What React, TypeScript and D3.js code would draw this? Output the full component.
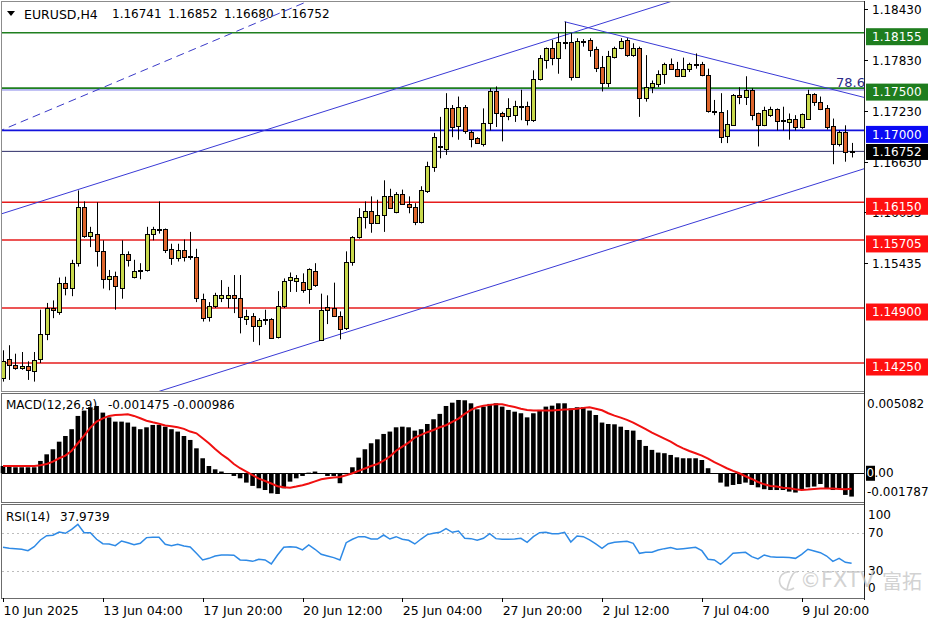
import React from "react";
import * as d3 from "d3";

// header
const symbolName = "EURUSD,H4";
const headerOHLC = ["1.16741", "1.16852", "1.16680", "1.16752"];

// H4 candles, first bar = 10 Jun 12:00
const openP = [
  1.1407, 1.1430, 1.1423, 1.1419, 1.1421, 1.1416, 1.1429, 1.1459, 1.1490, 1.1486,
  1.1520, 1.1514, 1.1543, 1.1609, 1.1575, 1.1578, 1.1558, 1.1525, 1.1528, 1.1514,
  1.1554, 1.1527, 1.1534, 1.1534, 1.1577, 1.1583, 1.1583, 1.1560, 1.1549, 1.1559,
  1.1551, 1.1550, 1.1501, 1.1479, 1.1492, 1.1502, 1.1502, 1.1505, 1.1502, 1.1477,
  1.1481, 1.1469, 1.1476, 1.1477, 1.1455, 1.1492, 1.1523, 1.1523, 1.1521, 1.1512,
  1.1534, 1.1452, 1.1491, 1.1490, 1.1481, 1.1466, 1.1544, 1.1574, 1.1598, 1.1605,
  1.1591, 1.1600, 1.1623, 1.1604, 1.1625, 1.1613, 1.1609, 1.1591, 1.1629, 1.1657,
  1.1681, 1.1679, 1.1727, 1.1705, 1.1728, 1.1698, 1.1691, 1.1684, 1.1709, 1.1747,
  1.1721, 1.1718, 1.1718, 1.1729, 1.1729, 1.1713, 1.1761, 1.1783, 1.1797, 1.1785,
  1.1804, 1.1804, 1.1763, 1.1806, 1.1807, 1.1796, 1.1775, 1.1756, 1.1787, 1.1798,
  1.1807, 1.1789, 1.1797, 1.1738, 1.1751, 1.1755, 1.1767, 1.1779, 1.1773, 1.1765,
  1.1772, 1.1778, 1.1778, 1.1765, 1.1723, 1.1722, 1.1693, 1.1707, 1.1742, 1.1740,
  1.1748, 1.1720, 1.1706, 1.1718, 1.1725, 1.1711, 1.1711, 1.1714, 1.1704, 1.1714,
  1.1743, 1.1734, 1.1726, 1.1705, 1.1684, 1.1698, 1.16741,
];
const highP = [
  1.1440, 1.1446, 1.1436, 1.1438, 1.1427, 1.1438, 1.1488, 1.1496, 1.1499, 1.1526,
  1.1527, 1.1547, 1.1629, 1.1616, 1.1586, 1.1615, 1.1570, 1.1535, 1.1533, 1.1570,
  1.1557, 1.1547, 1.1543, 1.1586, 1.1586, 1.1616, 1.1584, 1.1566, 1.1566, 1.1571,
  1.1580, 1.1560, 1.1507, 1.1497, 1.1508, 1.1523, 1.1515, 1.1529, 1.1529, 1.1488,
  1.1484, 1.1478, 1.1488, 1.1478, 1.1510, 1.1525, 1.1532, 1.1529, 1.1531, 1.1537,
  1.1543, 1.1507, 1.1505, 1.1520, 1.1486, 1.1557, 1.1575, 1.1608, 1.1616, 1.1622,
  1.1618, 1.1641, 1.1631, 1.1627, 1.1630, 1.1622, 1.1614, 1.1634, 1.1663, 1.1697,
  1.1716, 1.1744, 1.1730, 1.1740, 1.1730, 1.1700, 1.1692, 1.1726, 1.1750, 1.1752,
  1.1722, 1.1738, 1.1735, 1.1748, 1.1734, 1.1771, 1.1789, 1.1798, 1.1807, 1.1815,
  1.18285, 1.1815, 1.1809, 1.1808, 1.1809, 1.1799, 1.1788, 1.1794, 1.1799, 1.1809,
  1.1809, 1.1803, 1.1799, 1.1789, 1.1759, 1.1771, 1.1780, 1.1785, 1.1781, 1.1786,
  1.1780, 1.1791, 1.1781, 1.1773, 1.1736, 1.1744, 1.1724, 1.1743, 1.1751, 1.1764,
  1.1750, 1.1721, 1.1728, 1.1728, 1.1726, 1.1728, 1.1720, 1.1718, 1.1720, 1.1748,
  1.1744, 1.1740, 1.1730, 1.1714, 1.1700, 1.1706, 1.16852,
];
const lowP = [
  1.1403, 1.1405, 1.1417, 1.1417, 1.1405, 1.1403, 1.1425, 1.1452, 1.1478, 1.1482,
  1.1505, 1.1504, 1.1539, 1.1573, 1.1562, 1.1539, 1.1513, 1.1511, 1.1488, 1.1501,
  1.1539, 1.1525, 1.1524, 1.1533, 1.1570, 1.1578, 1.1555, 1.1541, 1.1545, 1.1545,
  1.1547, 1.1497, 1.1474, 1.1474, 1.1490, 1.1497, 1.1490, 1.1484, 1.1460, 1.1470,
  1.1450, 1.1446, 1.1470, 1.1454, 1.1454, 1.1490, 1.1509, 1.1509, 1.1508, 1.1495,
  1.1515, 1.1451, 1.1471, 1.1480, 1.1453, 1.1464, 1.1540, 1.1572, 1.1584, 1.1579,
  1.1590, 1.1580, 1.1608, 1.1602, 1.1612, 1.1602, 1.1588, 1.1590, 1.1626, 1.1651,
  1.1667, 1.1671, 1.1692, 1.1689, 1.1696, 1.1680, 1.1684, 1.1681, 1.1700, 1.1704,
  1.1687, 1.1712, 1.1710, 1.1712, 1.1706, 1.1710, 1.1759, 1.1773, 1.1777, 1.1767,
  1.1796, 1.1759, 1.1762, 1.1799, 1.1787, 1.1769, 1.1746, 1.1751, 1.1785, 1.1796,
  1.1787, 1.1787, 1.1716, 1.1734, 1.1744, 1.1751, 1.1755, 1.1772, 1.1763, 1.1764,
  1.1769, 1.1773, 1.1764, 1.1721, 1.1718, 1.1685, 1.1685, 1.1706, 1.1731, 1.1730,
  1.1712, 1.1681, 1.1705, 1.1716, 1.1700, 1.1700, 1.1689, 1.1700, 1.1702, 1.1713,
  1.1729, 1.1724, 1.1701, 1.1660, 1.1681, 1.1663, 1.1668,
];
const closeP = [
  1.1427, 1.1423, 1.1419, 1.1421, 1.1416, 1.1429, 1.1459, 1.1490, 1.1488, 1.1520,
  1.1514, 1.1543, 1.1609, 1.1575, 1.1580, 1.1558, 1.1525, 1.1528, 1.1516, 1.1554,
  1.1547, 1.1534, 1.1535, 1.1577, 1.1583, 1.1582, 1.1558, 1.1549, 1.1559, 1.1551,
  1.1550, 1.1501, 1.1479, 1.1492, 1.1505, 1.1505, 1.1505, 1.1502, 1.1479, 1.1481,
  1.1469, 1.1476, 1.1477, 1.1455, 1.1492, 1.1522, 1.1527, 1.1526, 1.1512, 1.1536,
  1.1518, 1.1488, 1.1488, 1.1481, 1.1466, 1.1544, 1.1574, 1.1598, 1.1605, 1.1591,
  1.1600, 1.1623, 1.1609, 1.1625, 1.1613, 1.1609, 1.1591, 1.1629, 1.1658, 1.1692,
  1.1682, 1.1727, 1.1705, 1.1728, 1.1700, 1.1690, 1.1685, 1.1709, 1.1747, 1.1721,
  1.1718, 1.1727, 1.1729, 1.1729, 1.1712, 1.1761, 1.1786, 1.1797, 1.1785, 1.1804,
  1.1803, 1.1763, 1.1806, 1.1805, 1.1795, 1.1773, 1.1756, 1.1788, 1.1798, 1.1806,
  1.1789, 1.1797, 1.1738, 1.1751, 1.1756, 1.1767, 1.1779, 1.1773, 1.1765, 1.1773,
  1.1778, 1.1779, 1.1765, 1.1723, 1.1722, 1.1693, 1.1707, 1.1742, 1.1740, 1.1748,
  1.1719, 1.1706, 1.1724, 1.1725, 1.1711, 1.1712, 1.1714, 1.1704, 1.1719, 1.1743,
  1.1734, 1.1726, 1.1704, 1.1684, 1.1698, 1.1674, 1.16752,
];

// MACD(12,26,9): main (histogram) and signal
const macdMain = [
  0.00046, 0.00042, 0.00038, 0.00038, 0.00038, 0.00038, 0.00078, 0.0012, 0.00152, 0.002,
  0.00236, 0.00279, 0.00363, 0.00397, 0.00418, 0.00426, 0.00384, 0.00354, 0.00327, 0.00327,
  0.00321, 0.00295, 0.00279, 0.00291, 0.00306, 0.00306, 0.00295, 0.00279, 0.00264, 0.00236,
  0.00211, 0.00158, 0.00095, 0.00046, 0.00025, 0.00011, -0.00002, -0.00017, -0.00032, -0.00059,
  -0.0008, -0.00095, -0.00106, -0.00127, -0.00131, -0.00095, -0.00053, -0.00032, -0.00017, 0.00004,
  0.00011, -0.00004, -0.00017, -0.00017, -0.00063, 0.00002, 0.00038, 0.00099, 0.00152, 0.0019,
  0.00215, 0.00249, 0.00264, 0.00291, 0.00295, 0.00291, 0.0027, 0.00279, 0.00312, 0.00342,
  0.00376, 0.00426, 0.00447, 0.00464, 0.00462, 0.00443, 0.00405, 0.00422, 0.00439, 0.00443,
  0.00422, 0.00401, 0.0039, 0.0038, 0.00354, 0.0038, 0.00401, 0.00422, 0.00428, 0.00443,
  0.00443, 0.00411, 0.00418, 0.00418, 0.00397, 0.00369, 0.00321, 0.00312, 0.0031, 0.00295,
  0.00274, 0.0027, 0.00211, 0.00173, 0.00148, 0.00131, 0.00127, 0.00116, 0.00101, 0.00095,
  0.00095, 0.00095, 0.00084, 0.00032, -0.00004, -0.00059, -0.00084, -0.00074, -0.00068, -0.00059,
  -0.00074, -0.00089, -0.00101, -0.00106, -0.00106, -0.00106, -0.00116, -0.00122, -0.00106, -0.00089,
  -0.00084, -0.00068, -0.00095, -0.00106, -0.00095, -0.00137, -0.001475,
];
const macdSignal = [
  0.00046, 0.00046, 0.00046, 0.00046, 0.00046, 0.00046, 0.00051, 0.00059, 0.00074, 0.00095,
  0.00112, 0.00143, 0.0019, 0.00238, 0.00289, 0.00327, 0.00348, 0.00363, 0.00369, 0.00371,
  0.00373, 0.00363, 0.00348, 0.00333, 0.00323, 0.00314, 0.00302, 0.00298, 0.00291, 0.00281,
  0.00264, 0.00253, 0.00222, 0.0019, 0.00154, 0.0012, 0.00093, 0.00059, 0.00032, 0.00011,
  -0.00011, -0.00034, -0.00049, -0.00065, -0.00082, -0.00089, -0.00091, -0.00084, -0.00076, -0.00065,
  -0.00051, -0.00038, -0.00032, -0.00027, -0.00023, -0.00013, 0.0, 0.00015, 0.0003, 0.00046,
  0.00059, 0.0008, 0.00106, 0.00143, 0.00169, 0.00194, 0.00226, 0.00243, 0.0026, 0.00274,
  0.00291, 0.00304, 0.00325, 0.00346, 0.00376, 0.00401, 0.00418, 0.00428, 0.00433, 0.00437,
  0.00437, 0.00428, 0.0042, 0.00409, 0.00401, 0.00397, 0.00397, 0.00397, 0.00397, 0.00401,
  0.00403, 0.00405, 0.00409, 0.00414, 0.00418, 0.00409, 0.00399, 0.0038, 0.00365, 0.00352,
  0.00338, 0.00321, 0.003, 0.00279, 0.00257, 0.00238, 0.00219, 0.002, 0.00177, 0.00158,
  0.00141, 0.00127, 0.00112, 0.00093, 0.0007, 0.00051, 0.00032, 0.00015, 0.0, -0.00019,
  -0.00036, -0.00055, -0.0007, -0.0008, -0.00084, -0.00091, -0.00095, -0.00101, -0.00106, -0.00103,
  -0.00099, -0.00097, -0.00097, -0.00097, -0.00099, -0.00101, -0.000986,
];

// RSI(14)
const rsiValues = [
  55.0, 54.0, 53.6, 52.9, 51.4, 55.7, 62.9, 67.5, 67.9, 71.4,
  70.0, 74.3, 79.6, 70.7, 70.7, 63.6, 58.9, 58.6, 56.8, 61.8,
  60.0, 57.9, 59.3, 65.4, 65.7, 65.7, 58.2, 56.8, 58.2, 56.4,
  55.4, 48.6, 41.5, 43.2, 45.7, 46.8, 46.8, 46.5, 41.5, 41.1,
  40.0, 42.2, 41.5, 37.2, 46.8, 55.0, 55.7, 55.0, 52.2, 57.5,
  52.9, 47.5, 45.7, 44.0, 41.5, 60.0, 63.6, 66.4, 66.4, 63.9,
  63.9, 68.2, 63.9, 66.4, 63.6, 62.5, 58.6, 63.9, 68.6, 70.0,
  71.1, 75.0, 71.1, 72.5, 64.7, 64.3, 62.5, 64.7, 69.6, 64.3,
  63.6, 63.6, 63.9, 64.7, 60.4, 66.4, 70.7, 71.1, 69.6, 69.6,
  71.1, 60.7, 67.2, 66.4, 62.9, 58.6, 53.9, 58.9, 60.4, 61.1,
  61.4, 59.3, 48.6, 49.7, 49.7, 52.2, 53.6, 54.7, 52.9, 53.6,
  54.3, 55.0, 51.4, 42.2, 41.5, 36.8, 42.2, 48.6, 49.3, 49.7,
  45.0, 42.5, 46.8, 45.0, 44.3, 44.3, 44.0, 43.2, 47.5, 52.9,
  51.1, 49.3, 45.7, 40.0, 43.2, 39.0, 37.9739,
];

const dateLabels = [
  "10 Jun 2025", "13 Jun 04:00", "17 Jun 20:00", "20 Jun 12:00", "25 Jun 04:00",
  "27 Jun 20:00", "2 Jul 12:00", "7 Jul 04:00", "9 Jul 20:00",
];
const dateLabelBars = [0, 16, 32, 48, 64, 80, 96, 112, 128];

// visible price scale labels (the rest sit under the level boxes)
const priceTicks = [1.1843, 1.1783, 1.1723, 1.1663, 1.16035, 1.15435];
const greenLevels = [1.18155, 1.175];
const blueLevels = [1.17];
const redLevels = [1.1615, 1.15705, 1.149, 1.1425];
const faintLevels = [1.17478];
const lastPrice = 1.16752;

// trendline anchors: [bar, price]
const channelUpper = [[12, 1.163], [90, 1.18125]];
const channelLower = [[51, 1.1452], [136, 1.165]];
const channelDashed = [[0, 1.1701], [48, 1.185]];
const downTrend = [[90, 1.18285], [138, 1.1739]];
const fibLabel = "78.6";

const macdDomain = [-0.001787, 0.005082];
const rsiDomain = [0, 100];
const rsiLevels = [70, 30];
const rsiAxisLabels = [100, 70, 30, 0];

const FONT = "'DejaVu Sans', sans-serif";
const BULL = "#c8d94c";
const BEAR = "#dd652c";

const App: React.FC = () => {
  const n = closeP.length;
  const x = d3.scaleLinear().domain([0, n - 1]).range([3, 851.6]);
  const yP = d3.scaleLinear().domain([1.1425, 1.18155]).range([363, 32.7]);
  const yM = d3.scaleLinear().domain(macdDomain).range([501.5, 393]);
  const yR = d3.scaleLinear().domain(rsiDomain).range([598.7, 505.3]);

  const crisp = (v: number) => Math.round(v) + 0.5;

  // line through two [bar, price] anchors, cut at bars b0..b1
  const seg = (a: number[][], b0: number, b1: number) => {
    const line = d3.scaleLinear().domain([a[0][0], a[1][0]]).range([a[0][1], a[1][1]]);
    return { x1: x(b0), y1: yP(line(b0)), x2: x(b1), y2: yP(line(b1)) };
  };

  const signalPath = d3
    .line<number>()
    .x((_, i) => x(i))
    .y((d) => yM(d))(macdSignal) as string;
  const rsiPath = d3
    .line<number>()
    .x((_, i) => x(i))
    .y((d) => yR(d))(rsiValues) as string;

  const levelBox = (p: number, fill: string, key: string) => (
    <g key={key}>
      <rect x={866} y={yP(p) - 4.5} width={62} height={17} fill={fill} />
      <text x={872} y={yP(p) + 4.3} fill="#fff" fontSize={12} fontFamily={FONT} dominantBaseline="central">
        {p.toFixed(5)}
      </text>
    </g>
  );

  const up = seg(channelUpper, -1, 112);
  const lo = seg(channelLower, 20, 138.5);
  const da = seg(channelDashed, -1, 52);
  const dn = seg(downTrend, 90, 138);

  return (
    <svg width={936} height={624} style={{ display: "block", position: "absolute", left: 0, top: 0 }}>
      <rect x={0} y={0} width={936} height={624} fill="#fff" />
      <defs>
        <clipPath id="mainClip">
          <rect x={2} y={2} width={862} height={389} />
        </clipPath>
      </defs>

      {/* panel frames */}
      <rect x={1.5} y={1.5} width={863} height={390} fill="none" stroke="#8c8c8c" />
      <rect x={1.5} y={393.5} width={863} height={109} fill="none" stroke="#6c6c6c" />
      <rect x={1.5} y={504.5} width={863} height={94} fill="none" stroke="#6c6c6c" />
      <line x1={864.5} x2={864.5} y1={1} y2={600} stroke="#222" />

      {/* horizontal levels */}
      {faintLevels.map((p, i) => (
        <line key={"f" + i} x1={2} x2={864} y1={yP(p)} y2={yP(p)} stroke="#7a7ae6" strokeWidth={1} />
      ))}
      {greenLevels.map((p, i) => (
        <line key={"g" + i} x1={2} x2={864} y1={yP(p)} y2={yP(p)} stroke="#1f7f1f" strokeWidth={1.6} />
      ))}
      {blueLevels.map((p, i) => (
        <line key={"b" + i} x1={2} x2={864} y1={yP(p)} y2={yP(p)} stroke="#1212dc" strokeWidth={1.6} />
      ))}
      {redLevels.map((p, i) => (
        <line key={"r" + i} x1={2} x2={864} y1={yP(p)} y2={yP(p)} stroke="#e61c1c" strokeWidth={1.6} />
      ))}
      <line x1={2} x2={864} y1={yP(lastPrice)} y2={yP(lastPrice)} stroke="#2c2c66" strokeWidth={1} />

      {/* trendlines */}
      <g clipPath="url(#mainClip)" fill="none">
        <line {...up} stroke="#3a3ad6" strokeWidth={1} />
        <line {...lo} stroke="#3a3ad6" strokeWidth={1} />
        <line {...da} stroke="#3a3ac8" strokeWidth={1} strokeDasharray="8,5" />
        <line {...dn} stroke="#3a3ad6" strokeWidth={1} />
      </g>
      <text x={836} y={82} fontSize={13} fontFamily={FONT} fill="#2c2c88" dominantBaseline="central">
        {fibLabel}
      </text>

      {/* candles */}
      <g clipPath="url(#mainClip)">
        {closeP.map((c, i) => {
          const o = openP[i];
          const cx = crisp(x(i));
          const top = yP(Math.max(o, c));
          const bot = yP(Math.min(o, c));
          const h = Math.max(1, bot - top);
          return (
            <g key={i}>
              <line x1={cx} x2={cx} y1={yP(highP[i])} y2={yP(lowP[i])} stroke="#000" strokeWidth={1} />
              <rect
                x={cx - 2}
                y={Math.round(top) + 0.5}
                width={4}
                height={Math.max(0.1, Math.round(h))}
                fill={c >= o ? BULL : BEAR}
                stroke="#000"
                strokeWidth={1}
              />
            </g>
          );
        })}
      </g>

      {/* header */}
      <path d="M7,11 L15,11 L11,16 Z" fill="#000" />
      <text x={24} y={14} fontSize={12.5} fontFamily={FONT} dominantBaseline="central">
        {symbolName}
      </text>
      {headerOHLC.map((t, i) => (
        <text key={t + i} x={112 + i * 56} y={14} fontSize={12} fontFamily={FONT} dominantBaseline="central">
          {t}
        </text>
      ))}

      {/* price axis */}
      {priceTicks.map((p, i) => (
        <g key={"t" + i}>
          <line x1={864} x2={868} y1={crisp(yP(p))} y2={crisp(yP(p))} stroke="#000" />
          <text x={872} y={yP(p) + 1} fontSize={12} fontFamily={FONT} dominantBaseline="central">
            {p.toFixed(5)}
          </text>
        </g>
      ))}
      {greenLevels.map((p, i) => levelBox(p, "#1e7d1e", "gb" + i))}
      {blueLevels.map((p, i) => levelBox(p, "#0a0af5", "bb" + i))}
      {redLevels.map((p, i) => levelBox(p, "#ff1010", "rb" + i))}
      <rect x={866} y={yP(lastPrice) - 7.4} width={62} height={16} fill="#000" />
      <text x={872} y={yP(lastPrice) + 0.8} fill="#fff" fontSize={12} fontFamily={FONT} dominantBaseline="central">
        {lastPrice.toFixed(5)}
      </text>

      {/* MACD */}
      <line x1={2} x2={864} y1={crisp(yM(0))} y2={crisp(yM(0))} stroke="#000" strokeWidth={1} />
      {macdMain.map((v, i) => (
        <rect
          key={"m" + i}
          x={x(i) - 2.3}
          y={Math.min(yM(v), yM(0))}
          width={4.6}
          height={Math.abs(yM(v) - yM(0))}
          fill="#000"
        />
      ))}
      <path d={signalPath} fill="none" stroke="#f01010" strokeWidth={2} />
      <text x={6} y={405} fontSize={12} fontFamily={FONT} dominantBaseline="central">
        MACD(12,26,9)
      </text>
      <text x={108} y={405} fontSize={12} fontFamily={FONT} dominantBaseline="central">
        {macdMain[n - 1].toFixed(6)}
      </text>
      <text x={173} y={405} fontSize={12} fontFamily={FONT} dominantBaseline="central">
        {macdSignal[n - 1].toFixed(6)}
      </text>
      <text x={867} y={404} fontSize={12} fontFamily={FONT} dominantBaseline="central">
        {macdDomain[1].toFixed(6)}
      </text>
      <rect x={866} y={yM(0) - 7.5} width={9} height={15} fill="#000" />
      <text x={866.5} y={yM(0)} fontSize={12} fontFamily={FONT} fill="#fff" dominantBaseline="central">
        0
      </text>
      <text x={874.5} y={yM(0)} fontSize={12} fontFamily={FONT} dominantBaseline="central">
        .00
      </text>
      <text x={867} y={492} fontSize={12} fontFamily={FONT} dominantBaseline="central">
        {macdDomain[0].toFixed(6)}
      </text>

      {/* RSI */}
      {rsiLevels.map((v) => (
        <line
          key={"rl" + v}
          x1={2}
          x2={864}
          y1={crisp(yR(v))}
          y2={crisp(yR(v))}
          stroke="#bdbdbd"
          strokeDasharray="2,3"
        />
      ))}
      <path d={rsiPath} fill="none" stroke="#2e8ae6" strokeWidth={1.5} />
      <text x={6} y={516.5} fontSize={12} fontFamily={FONT} dominantBaseline="central">
        RSI(14)
      </text>
      <text x={60} y={516.5} fontSize={12} fontFamily={FONT} dominantBaseline="central">
        {rsiValues[n - 1].toFixed(4)}
      </text>
      {rsiAxisLabels.map((v) => {
        const yy = v === 100 ? 515 : v === 0 ? 588 : yR(v);
        return (
          <text key={"ra" + v} x={868} y={yy} fontSize={12} fontFamily={FONT} dominantBaseline="central">
            {v}
          </text>
        );
      })}

      {/* time axis */}
      {dateLabelBars.map((b, i) => (
        <g key={"d" + i}>
          <line x1={crisp(x(b))} x2={crisp(x(b))} y1={598} y2={602} stroke="#000" />
          <text x={x(b) + 0.5} y={610} fontSize={12.5} fontFamily={FONT} dominantBaseline="central">
            {dateLabels[i]}
          </text>
        </g>
      ))}

      {/* watermark */}
      <g opacity={0.75}>
        <path
          d="M790,572 a9,9 0 1,0 4,16 M787,590 q2,-10 6,-16 q2,-3 5,-2"
          fill="none"
          stroke="#c4c4c4"
          strokeWidth={1.6}
        />
        <text x={800} y={580} fontSize={21} fontFamily={FONT} fill="#c4c4c4" dominantBaseline="central">
          ©FXTV
        </text>
        <text x={882} y={580} fontSize={20} fontFamily="'Noto Sans CJK SC', sans-serif" fill="#c4c4c4" dominantBaseline="central">
          富拓
        </text>
      </g>
    </svg>
  );
};

export default App;
